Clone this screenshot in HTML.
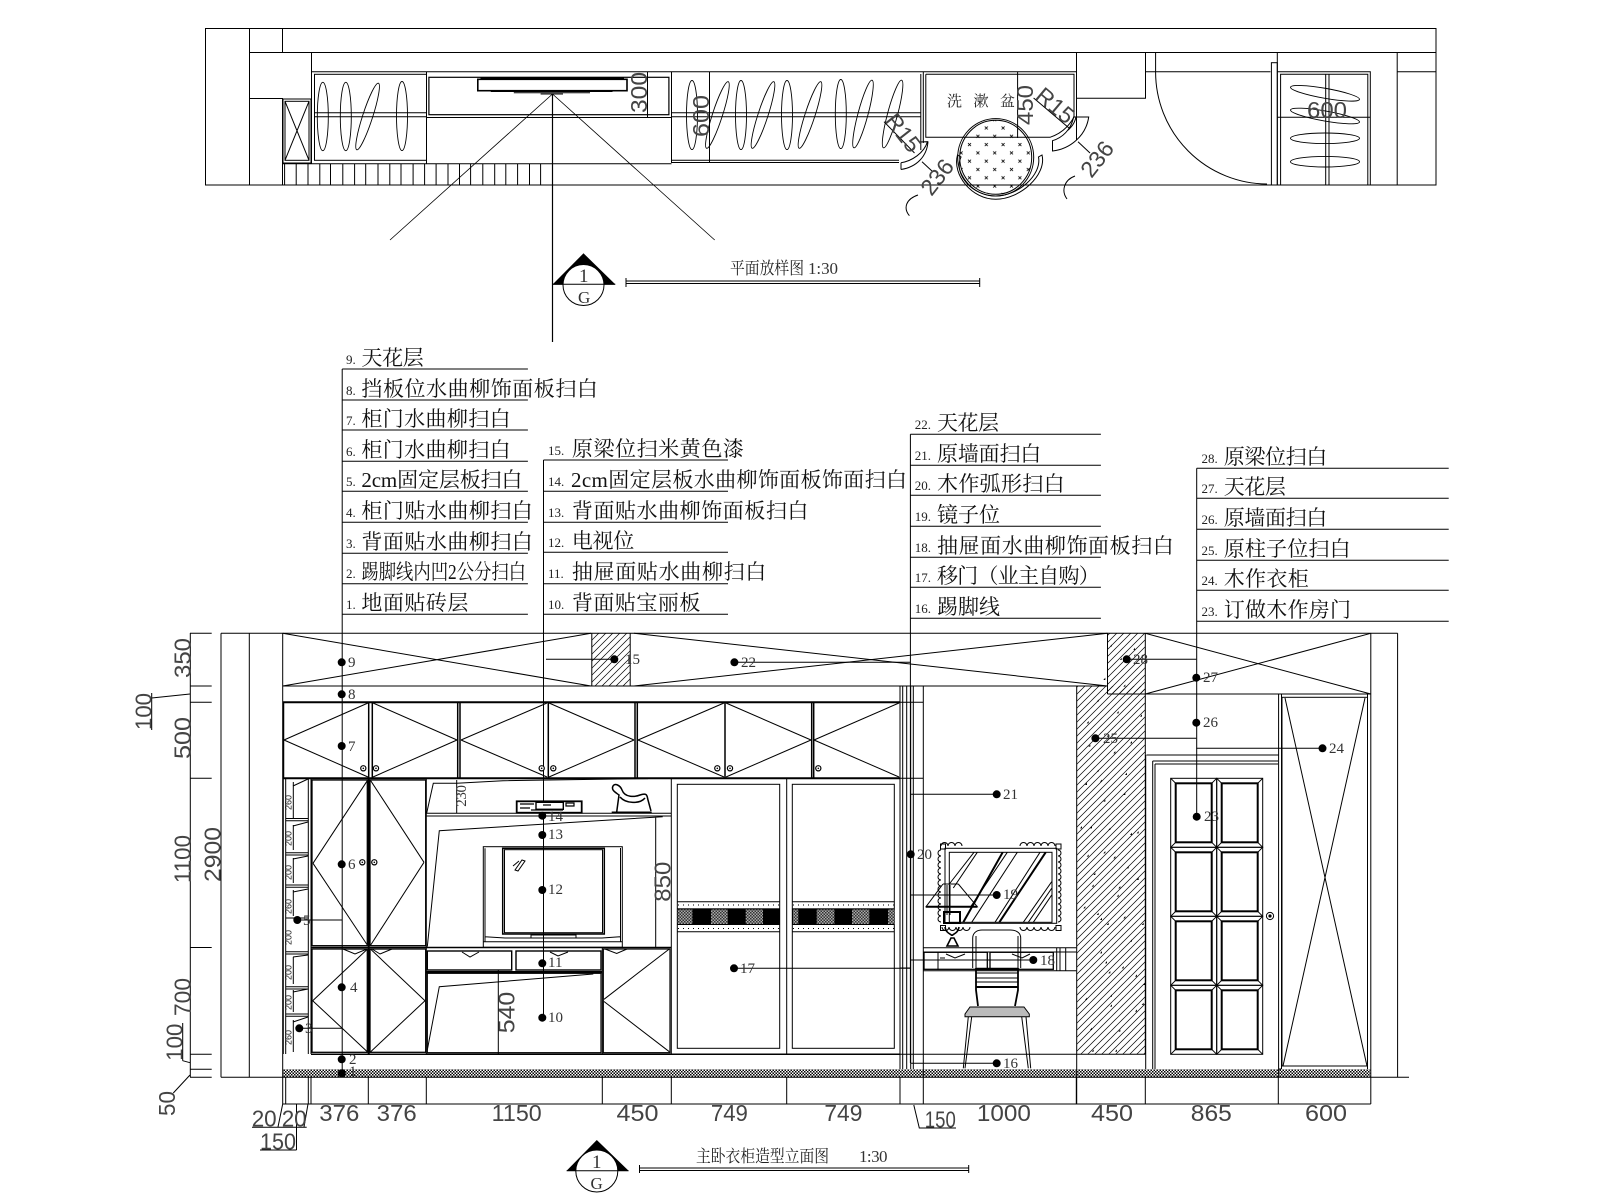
<!DOCTYPE html>
<html><head><meta charset="utf-8"><style>
html,body{margin:0;padding:0;background:#fff}
svg{display:block}
.c{font-family:"Liberation Serif","Noto Serif CJK SC",serif;font-size:21px;fill:#111}
.n{font-family:"Liberation Serif",serif;font-size:13px;fill:#222}
.d{font-family:"Liberation Sans",sans-serif;font-size:23px;fill:#444}
.s{font-family:"Liberation Serif",serif;font-size:15px;fill:#333}
.t{font-family:"Liberation Sans",sans-serif;font-size:9px;fill:#222}
.x{font-family:"Noto Serif CJK SC",serif;font-size:17px;fill:#222}
</style></head><body>
<svg xmlns="http://www.w3.org/2000/svg" width="1600" height="1200" viewBox="0 0 1600 1200">
<defs>
<pattern id="h" width="7" height="7" patternUnits="userSpaceOnUse"><path d="M-1 8L8-1M-1 1L1-1M6 8L8 6" stroke="#000" stroke-width=".7" fill="none"/></pattern>
<pattern id="f" width="3" height="3" patternUnits="userSpaceOnUse"><rect width="3" height="3" fill="#fff"/><rect width="1.5" height="1.5" fill="#000"/><rect x="1.5" y="1.5" width="1.5" height="1.5" fill="#000"/></pattern>
<pattern id="k" width="3" height="3" patternUnits="userSpaceOnUse"><rect width="3" height="3" fill="#aaa"/><rect width="1.5" height="1.5" fill="#333"/><rect x="1.5" y="1.5" width="1.5" height="1.5" fill="#333"/></pattern>
<pattern id="m" width="16.8" height="16.6" patternUnits="userSpaceOnUse"><path d="M2 2l3 3M5 2l-3 3M10.4 10.3l3 3M13.4 10.3l-3 3" stroke="#000" stroke-width=".8" fill="none"/></pattern>
<clipPath id="ce"><ellipse cx="995.7" cy="157.3" rx="36" ry="37"/></clipPath>
<clipPath id="mc"><rect x="949" y="852" width="103" height="71"/></clipPath>
<g id="p" fill="none" stroke="#000"><rect width="46" height="69"/><rect x="5" y="5" width="36" height="59" stroke-width="2"/><path d="M0 0L5 5M46 0L41 5M0 69L5 64M46 69L41 64"/></g>
<g id="ring"><circle r="2.6" fill="#fff" stroke="#000" stroke-width="1.2"/><circle r=".8" fill="#000"/></g>
</defs>

<!-- PLAN -->
<g fill="none" stroke="#000" stroke-width="1">
<rect x="205.5" y="28.5" width="1230.5" height="156.5"/>
<path d="M249.5 28V185M282.5 28V52.5M249 52.5H1436M249 98.5H282.5V185M311.5 52V163.7M311 71.7H1076.5V140M282 163.7H671.5M426.5 72V163.7M671.5 72V163M709.5 72V163M647.5 72V117.5M426 117.5H672M314.5 112.7H426M314.5 116.7H426M672 112.7H920.8M672 116.7H920.8M671.5 160.3H899M671.5 162.5H899M920.8 74V150M923.3 72V143"/>
<rect x="314.5" y="74.3" width="112" height="86"/>
<rect x="428.9" y="77.3" width="240" height="37.4" stroke-width="1.2"/>
<rect x="283" y="99" width="28" height="64"/>
<rect x="285" y="101.3" width="24" height="59"/>
<path d="M285 101.3L309 160.3M309 101.3L285 160.3"/>
<path d="M284.6 163.7V185M296.2 163.7V185M308 163.7V185M319.8 163.7V185M330.5 163.7V185M342.8 163.7V185M354.6 163.7V185M365.7 163.7V185M378 163.7V185M389.8 163.7V185M401 163.7V185M413.1 163.7V185M424.6 163.7V185M436.1 163.7V185M448 163.7V185M459.5 163.7V185M470.6 163.7V185M482.8 163.7V185M494.7 163.7V185M505.8 163.7V185M517.6 163.7V185M529.5 163.7V185M540.6 163.7V185"/>
<path d="M552.5 94V342" stroke-width="1.2"/>
<path d="M552.5 94L390 240M552.5 94L714.7 240" stroke-width=".8"/>
<rect x="477.8" y="79.3" width="149.2" height="11.4" stroke-width="1.6"/>
<path d="M480.5 78H624M490.8 91.5H612.5M513.8 92.8H590M540.6 94H563"/>
<g stroke-width=".9">
<ellipse cx="322.8" cy="116.5" rx="5.5" ry="34.2"/><ellipse cx="345.8" cy="116.5" rx="5.5" ry="34.2"/><ellipse cx="367.6" cy="116.5" rx="5" ry="35" transform="rotate(18 367.6 116.5)"/><ellipse cx="402" cy="116" rx="5.5" ry="34.5"/>
<ellipse cx="692" cy="115" rx="5.5" ry="34.5"/><ellipse cx="717.4" cy="115" rx="5" ry="35" transform="rotate(18 717.4 115)"/><ellipse cx="741" cy="115" rx="5.5" ry="34.5"/><ellipse cx="763" cy="115" rx="5" ry="35" transform="rotate(18 763 115)"/><ellipse cx="787" cy="115" rx="5.5" ry="34.5"/><ellipse cx="810" cy="115" rx="5" ry="35" transform="rotate(18 810 115)"/><ellipse cx="840.8" cy="114" rx="5.5" ry="34.5"/><ellipse cx="863" cy="114" rx="5" ry="35" transform="rotate(15 863 114)"/><ellipse cx="892.6" cy="114" rx="5" ry="35" transform="rotate(15 892.6 114)"/>
<ellipse cx="1325" cy="93.3" rx="35" ry="5" transform="rotate(10 1325 93.3)"/><ellipse cx="1325" cy="116" rx="35" ry="5" transform="rotate(10 1325 116)"/><ellipse cx="1325" cy="138.3" rx="34.5" ry="5.3"/><ellipse cx="1325" cy="161.7" rx="34.5" ry="5.3"/>
</g>
<path d="M925.8 74.3H1074V117M925.8 74.3V137.3H1050C1060 134 1068 128 1074 117M1017.6 72V138"/>
<path d="M884 121.7L914.5 153M1033.6 98L1069 128M922 161.7L933 172M1078 141.7L1090 153"/>
<path d="M901 162.7C912 161 924 153 927.5 141.7L920 142M901 169.5C917 167 927 156 928 141.5M901 162.7V169.5M1052.5 140.7C1062 138 1071 130 1073.6 117H1088.7C1086 136 1070 149 1052.5 151ZM1067 131C1072 127 1075 122 1076 117"/>
<path d="M909.4 215.7C903 208 906 199 918 195M1067 199C1061 191 1064 180 1075 176"/>
<ellipse cx="995.7" cy="157.3" rx="38" ry="38.7"/>
<ellipse cx="995.7" cy="157.3" rx="36" ry="37"/>
<rect x="958" y="119" width="76" height="77" fill="url(#m)" stroke="none" clip-path="url(#ce)"/>
<path d="M957.5 155C952 175 972 199.3 995.7 199.3C1020 199.3 1047 175 1042 155L1038.5 157C1042 175 1018 196 995.7 196C973 196 953 175 961 157Z"/>
<path d="M1076.5 52V98.3H1145.5V52M1145.5 71.7H1270.5M1155.6 52V71.7A112 112 0 0 0 1267 184"/>
<rect x="1271.4" y="62.7" width="5.9" height="122.3"/>
<path d="M1277.3 52V185M1277 71.7H1370.3V185M1280.6 185V74.3H1367.8V185M1277 117.3H1370.3M1325.7 74V185M1329 74V185M1397.2 52V185M1397 71.7H1436"/>
<path d="M552.8 284.3H615.2M626 278V287M979.7 278V287"/>
<path d="M626 281H979.7M626 283.5H979.7"/>
</g>
<path d="M583.5 253.3L552.8 284.3H615.2Z" fill="#000"/>
<circle cx="583.5" cy="285" r="20.5" fill="#fff" stroke="#000"/>
<path d="M552.8 284.3H615.2" stroke="#000"/>
<text class="s" x="579" y="282" style="font-size:19px">1</text>
<text class="s" x="578" y="303" style="font-size:17px">G</text>

<text class="d" transform="translate(647 113) rotate(-90)" textLength="41" lengthAdjust="spacingAndGlyphs">300</text>
<text class="d" transform="translate(709 137) rotate(-90)" textLength="42" lengthAdjust="spacingAndGlyphs">600</text>
<text class="d" transform="translate(1033 125) rotate(-90)" textLength="40" lengthAdjust="spacingAndGlyphs">450</text>
<text class="d" x="1307" y="118" textLength="40" lengthAdjust="spacingAndGlyphs">600</text>
<text class="d" transform="translate(884 121) rotate(52)">R15</text>
<text class="d" transform="translate(1034 98) rotate(40)">R15</text>
<text class="d" text-anchor="middle" transform="translate(937 177) rotate(-52) translate(0 8)">236</text>
<text class="d" text-anchor="middle" transform="translate(1097 159) rotate(-52) translate(0 8)">236</text>
<text class="x" x="947" y="106" textLength="68" style="font-size:15px">洗 漱 盆</text>
<text class="x" x="730" y="274" textLength="74" lengthAdjust="spacingAndGlyphs">平面放样图</text>
<text class="s" x="808" y="274" textLength="30" style="font-size:17px">1:30</text>

<!-- LABELS -->
<g stroke="#000" fill="none">
<path d="M342.2 369H527.9M342.2 400H527.9M342.2 430H527.9M342.2 461.3H527.9M342.2 491.3H527.9M342.2 522.3H527.9M342.2 553.3H527.9M342.2 583.7H527.9M342.2 614.3H527.9"/>
<path d="M543.5 460H728M543.5 491.3H728M543.5 522.3H728M543.5 552.3H728M543.5 583.7H728M543.5 614.3H728"/>
<path d="M910.4 434.3H1100.9M910.4 465.3H1100.9M910.4 495.3H1100.9M910.4 526.3H1100.9M910.4 557.3H1100.9M910.4 587.3H1100.9M910.4 618.3H1100.9"/>
<path d="M1196.7 468.3H1448.7M1196.7 498.3H1448.7M1196.7 529.3H1448.7M1196.7 560.3H1448.7M1196.7 590.3H1448.7M1196.7 621.3H1448.7"/>
<path d="M342.2 369V1073M543.5 460V1017.7M910.4 434.3V1063M1196.7 468.3V816.7"/>
</g>
<g>
<text class="n" x="346" y="364">9.</text><text class="c" x="361.4" y="365" textLength="62.4">天花层</text>
<text class="n" x="346" y="395">8.</text><text class="c" x="361.4" y="396" textLength="236.5">挡板位水曲柳饰面板扫白</text>
<text class="n" x="346" y="425">7.</text><text class="c" x="361.4" y="426" textLength="149.2">柜门水曲柳扫白</text>
<text class="n" x="346" y="456">6.</text><text class="c" x="361.4" y="457" textLength="149.2">柜门水曲柳扫白</text>
<text class="n" x="346" y="486">5.</text><text class="c" x="361.4" y="487" textLength="161">2cm固定层板扫白</text>
<text class="n" x="346" y="517">4.</text><text class="c" x="361.4" y="518" textLength="171.4">柜门贴水曲柳扫白</text>
<text class="n" x="346" y="548">3.</text><text class="c" x="361.4" y="549" textLength="171.4">背面贴水曲柳扫白</text>
<text class="n" x="346" y="578">2.</text><text class="c" x="361.4" y="579" textLength="164.6" lengthAdjust="spacingAndGlyphs">踢脚线内凹2公分扫白</text>
<text class="n" x="346" y="609">1.</text><text class="c" x="361.4" y="610" textLength="107">地面贴砖层</text>

<text class="n" x="548" y="455">15.</text><text class="c" x="571.9" y="456" textLength="172">原梁位扫米黄色漆</text>
<text class="n" x="548" y="486">14.</text><text class="c" x="571" y="487" textLength="336">2cm固定层板水曲柳饰面板饰面扫白</text>
<text class="n" x="548" y="517">13.</text><text class="c" x="571.9" y="518" textLength="236.5">背面贴水曲柳饰面板扫白</text>
<text class="n" x="548" y="547">12.</text><text class="c" x="571.9" y="548" textLength="62.3">电视位</text>
<text class="n" x="548" y="578">11.</text><text class="c" x="571.9" y="579" textLength="194.4">抽屉面贴水曲柳扫白</text>
<text class="n" x="548" y="609">10.</text><text class="c" x="571.9" y="610" textLength="128.5">背面贴宝丽板</text>

<text class="n" x="914.8" y="429">22.</text><text class="c" x="937" y="430" textLength="62">天花层</text>
<text class="n" x="914.8" y="460">21.</text><text class="c" x="937" y="461" textLength="104.3">原墙面扫白</text>
<text class="n" x="914.8" y="490">20.</text><text class="c" x="937" y="491" textLength="127.6">木作弧形扫白</text>
<text class="n" x="914.8" y="521">19.</text><text class="c" x="937" y="522" textLength="63">镜子位</text>
<text class="n" x="914.8" y="552">18.</text><text class="c" x="937" y="553" textLength="236.8">抽屉面水曲柳饰面板扫白</text>
<text class="n" x="914.8" y="582">17.</text><text class="c" x="937" y="583" textLength="162.8">移门（业主自购）</text>
<text class="n" x="914.8" y="613">16.</text><text class="c" x="937" y="614" textLength="63">踢脚线</text>

<text class="n" x="1201.5" y="463">28.</text><text class="c" x="1223.7" y="464" textLength="103.6">原梁位扫白</text>
<text class="n" x="1201.5" y="493">27.</text><text class="c" x="1223.7" y="494" textLength="62.2">天花层</text>
<text class="n" x="1201.5" y="524">26.</text><text class="c" x="1223.7" y="525" textLength="103.6">原墙面扫白</text>
<text class="n" x="1201.5" y="555">25.</text><text class="c" x="1223.7" y="556" textLength="126.9">原柱子位扫白</text>
<text class="n" x="1201.5" y="585">24.</text><text class="c" x="1223.7" y="586" textLength="85">木作衣柜</text>
<text class="n" x="1201.5" y="616">23.</text><text class="c" x="1223.7" y="617" textLength="127.3">订做木作房门</text>
</g>

<!-- ELEVATION fills -->
<rect x="591.8" y="633.3" width="38.4" height="52.7" fill="url(#h)"/>
<rect x="1107.5" y="633.3" width="37.8" height="60.7" fill="url(#h)"/>
<rect x="1076.7" y="686" width="68.6" height="368.3" fill="url(#h)"/>
<rect x="282.7" y="1069.3" width="1087.6" height="8" fill="url(#f)"/>

<g fill="none" stroke="#000" stroke-width="1">
<path d="M221 633.3H1397.6M221 633.3V1077.3M249.3 633.3V1077.3M282.7 633.3V1104M1370.8 633.3V1104M1397.6 633.3V1077.3M221 1077.3H1409M282.7 1104H1370.8"/>
<path d="M190.3 633V1077M190 633.3H211.7M190 686H211.7M190 702.3H211.7M190 778.3H211.7M190 947.5H211.7M190 1054.3H211.7M190 1069.3H211.7M190 1077.3H211.7"/>
<path d="M151.7 698L190 694M182.7 1060.7L190 1062.7M173.3 1093L190 1075M151.7 693V730M182.7 1023V1060.7"/>
<path d="M285.7 1077V1104M308.3 1077V1104M311 1077V1104M368.3 1077V1104M426.3 1077V1104M602.3 1077V1104M671.3 1077V1104M786.7 1077V1104M900 1077V1104M923.3 1077V1104M1076.3 1077V1104M1145.3 1077V1104M1278.3 1077V1104"/>
<path d="M252 1127.3H306.7M282.7 1104L278 1127M308 1104L304 1127M260 1150H296.5M296.5 1104V1150M913.8 1105L919.3 1128H956"/>
<path d="M282.7 686H1107.5M1107.5 694H1370.8M1107.5 633.3V694M1145.3 633.3V1054.3M1076.7 686V1104M591.8 633.3V686M630.2 633.3V686M900 1054.3H1145.3"/>
<path d="M282.7 686L591 633.3M282.7 633.3L591 686M634 633.3L1107.5 686M634 686L1107.5 633.3M1145.3 633.3L1370.8 694M1145.3 694L1370.8 633.3"/>

<path d="M282.7 702.3H900" stroke-width="2"/>
<path d="M282.7 778.3H900" stroke-width="2"/>
<path d="M283.5 702V778M368.7 702V778M372.3 702V778M457.7 702V778M460 702V778M548.3 702V778M635 702V778M637.3 702V778M725 702V778M811.7 702V778M813.7 702V778" stroke-width="1.5"/>
<path d="M284 740L368 703M284 740L368 777M373 703L457 740M373 777L457 740M461 740L547 703M461 740L547 777M549 703L634 740M549 777L634 740M638 740L724 703M638 740L724 777M726 703L811 740M726 777L811 740M814 740L899 703M814 740L899 777"/>

<path d="M900 686V1069M902.7 686V1069M906.7 686V1069M910.7 686V1069M913.3 686V1069M923.3 686V1077M900 702.3H923.3M900 778.3H923.3M900 968H910.7"/>
<path d="M910.7 794.3H996.7M910.7 895H996.7M910.7 960H1033.3M910.7 1063.3H996.7M734 968.3H910.7M546 659.3H614.3M734.4 662.3H910.5M1126.7 659.3H1196.3M1095.4 738.3H1196.3M1196.3 748.3H1322.5M297.3 920H342.3M299.3 1028.3H342.3"/>

<path d="M283.3 778V1054M285.7 778V1054M308.3 778V1054M311 778V1054"/>
<path d="M293.3 782V818M293.3 825V850M293.3 858V883M293.3 890V916M293.3 957V984M293.3 990V1012M293.3 1020V1052"/>
<path d="M286 818.5H308M286 820.8H308M286 852.7H308M286 855H308M286 885H308M286 887.3H308M286 918H308M286 951.7H308M286 954H308M286 986.7H308M286 989H308M286 1014H308M286 1016.3H308"/>
<path d="M293 786L308 779M293 826L308 822M293 859L308 856M293 892L308 889M293 957L308 955M293 992L308 989M293 1022L308 1017"/>

<rect x="312" y="780" width="55.3" height="165.7" stroke-width="1.3"/>
<rect x="370" y="780" width="55.7" height="165.7" stroke-width="1.3"/>
<rect x="312" y="949" width="55.3" height="103.3" stroke-width="1.3"/>
<rect x="370" y="949" width="55.7" height="103.3" stroke-width="1.3"/>
<path d="M368.7 778V1054" stroke-width="2"/>
<path d="M311 947.5H671.3" stroke-width="1.6"/>
<path d="M311 1054.3H900" stroke-width="1.5"/>
<path d="M313 863.3L367.3 780.7M313 863.3L367.3 945M370.7 780.7L424 862.3M370.7 945L424 862.3M312.7 1000.7L367.3 949.3M312.7 1000.7L367.3 1051.7M370.7 949.3L425 1000.7M370.7 1051.7L425 1000.7M343 949L355 954L367 949M372 949L380 954L392 949"/>
<path d="M426.3 778V1054M671.3 778V1054M426.3 813.3H671.3M426.3 816H671.3M602.3 947V1054"/>
<path d="M426.7 813L433.3 783.3H456.7L503 780.7L600 779.3L648 778.6M456.7 780V813M427.3 946.7L439.3 830.7L662.7 816.7M655.7 817V947"/>
<rect x="483.3" y="846.7" width="139" height="100.6"/>
<path d="M485 848.3V942M620.5 848V942M483 941.7H622.3M485 936.7L505 938H602L620 936.7M531 935H576V938H531Z"/>
<rect x="502.7" y="848.3" width="101.6" height="85.7" stroke-width="1.5"/>
<rect x="504.5" y="849.7" width="98" height="83"/>
<path d="M513 866L519 861M515 870L522 860L525 861L518 871Z"/>
<rect x="516.7" y="801.3" width="65" height="11.4" fill="#fff" stroke-width="1.8"/>
<rect x="536" y="802.3" width="27.3" height="7" stroke-width="1.4"/>
<path d="M520 804h14M520 808h10M543 805h8M566 803h8v3h-8zM531 810H563" stroke-width="1.2"/>
<path d="M616.7 812L619 795C615 792 611 790 613 786C615 783 620 785 622 790C625 798 635 797 640 795C648 792 647 797 648 800L651 811M620 797C626 804 640 804 645 798M611.7 812.3H651.7" stroke-width="1.5"/>
<rect x="427.3" y="951" width="84.4" height="19" stroke-width="1.4"/>
<rect x="516" y="951" width="85" height="19" stroke-width="1.4"/>
<path d="M462 952L470 957L479 952M550 952L558 956L568 952M426 971.5H602" />
<path d="M426 972.7H602" stroke-width="1.6"/>
<rect x="427.3" y="973.3" width="173.7" height="79.4" stroke-width="1.2"/>
<path d="M427.3 1050L439.3 986.7L593.3 974M498.3 970V1054"/>
<rect x="603.3" y="949" width="66.7" height="103.7" stroke-width="1.2"/>
<path d="M604 999.3L669.3 949M604 1001.5L669.3 1051.7M605 949L616.7 953.5L627 949"/>

<path d="M671.3 778.5H899M786.7 778V1054"/>
<rect x="677.3" y="784.3" width="102.4" height="264"/>
<rect x="792.3" y="784.3" width="102" height="264"/>
<path d="M677.3 901.7H779.7M792.3 901.7H894.3M677.3 931.7H779.7M792.3 931.7H894.3"/>
<path d="M678 905H779M793 905H894M678 928.5H779M793 928.5H894" stroke-dasharray="1 4"/>
</g>
<rect x="677.3" y="908.3" width="102.4" height="16.7" fill="#000"/>
<rect x="792.3" y="908.3" width="102" height="16.7" fill="#000"/>
<g fill="url(#k)">
<rect x="677.7" y="909.5" width="14.7" height="14.5"/><rect x="711" y="909.5" width="16.7" height="14.5"/><rect x="745.7" y="909.5" width="17.3" height="14.5"/>
<rect x="793" y="909.5" width="5.3" height="14.5"/><rect x="816.7" y="909.5" width="17.7" height="14.5"/><rect x="852" y="909.5" width="17.3" height="14.5"/><rect x="888" y="909.5" width="6.3" height="14.5"/>
</g>

<!-- knobs -->
<use href="#ring" x="363.3" y="768.3"/><use href="#ring" x="376" y="768.3"/><use href="#ring" x="541.7" y="768.3"/><use href="#ring" x="553.3" y="768.3"/><use href="#ring" x="717.3" y="768.3"/><use href="#ring" x="730" y="768.3"/><use href="#ring" x="818.3" y="768.3"/><use href="#ring" x="362.3" y="862.3"/><use href="#ring" x="374.3" y="862.3"/>

<!-- right: door + wardrobe -->
<g fill="none" stroke="#000">
<path d="M1146.4 755H1278.6M1145.7 755V1069M1152.7 761V1069M1155 764V1069M1152.7 761H1278M1155 764H1278M1278.6 694V1077M1281.5 694V1069M1278.3 1069H1281"/>
<rect x="1282" y="697.3" width="85.5" height="368.7"/>
<path d="M1285 698L1367 1066M1365 698L1283 1066M1367.5 694V1069"/>
</g>
<use href="#p" x="1170.7" y="778.3"/><use href="#p" x="1216.7" y="778.3"/>
<use href="#p" x="1170.7" y="847.3"/><use href="#p" x="1216.7" y="847.3"/>
<use href="#p" x="1170.7" y="916.3"/><use href="#p" x="1216.7" y="916.3"/>
<use href="#p" x="1170.7" y="985.3"/><use href="#p" x="1216.7" y="985.3"/>
<circle cx="1270" cy="916" r="3.6" fill="#fff" stroke="#000"/><circle cx="1270" cy="916" r="1.6" fill="#000"/>

<!-- mirror, lamp, desk, chair -->
<g fill="none" stroke="#000" stroke-width="1">
<rect x="945" y="848.3" width="111.7" height="75"/>
<rect x="949.3" y="852.3" width="102.7" height="70"/>
<g clip-path="url(#mc)">
<path d="M949.3 884L974 852.3M953.3 888L977.3 852.3M971.7 922.3L1017.3 852.3M970.7 906.7L1007.3 852.3M995 922.3L1040 852.3M1023.3 922.3L1051.7 881.7M1028.3 922.3L1051.7 888.3M1033.3 922.3L1051.7 895"/>
<path d="M963.3 922.3L1002.7 852.3M999.3 922.3L1045.7 852.3" stroke-width="2"/>
</g>
<path d="M941 846a3.5 3.5 0 0 1 7 0 3.5 3.5 0 0 1 7 0 3.5 3.5 0 0 1 7 0M1020 846a3.5 3.5 0 0 1 7 0 3.5 3.5 0 0 1 7 0 3.5 3.5 0 0 1 7 0 3.5 3.5 0 0 1 7 0 3.5 3.5 0 0 1 7 0M942 927a3.5 3.5 0 0 0 7 0 3.5 3.5 0 0 0 7 0 3.5 3.5 0 0 0 7 0 3.5 3.5 0 0 0 7 0M1020 927a3.5 3.5 0 0 0 7 0 3.5 3.5 0 0 0 7 0 3.5 3.5 0 0 0 7 0 3.5 3.5 0 0 0 7 0 3.5 3.5 0 0 0 7 0M941 850a3 3 0 0 0 0 6 3 3 0 0 0 0 6 3 3 0 0 0 0 6 3 3 0 0 0 0 6 3 3 0 0 0 0 6 3 3 0 0 0 0 6 3 3 0 0 0 0 6 3 3 0 0 0 0 6 3 3 0 0 0 0 6 3 3 0 0 0 0 6 3 3 0 0 0 0 6 3 3 0 0 0 0 6M1058 850a3 3 0 0 1 0 6 3 3 0 0 1 0 6 3 3 0 0 1 0 6 3 3 0 0 1 0 6 3 3 0 0 1 0 6 3 3 0 0 1 0 6 3 3 0 0 1 0 6 3 3 0 0 1 0 6 3 3 0 0 1 0 6 3 3 0 0 1 0 6 3 3 0 0 1 0 6 3 3 0 0 1 0 6"/>
<rect x="940.5" y="844" width="5" height="5"/><rect x="1056" y="844" width="5" height="5"/><rect x="940.5" y="925.5" width="5" height="5"/><rect x="1056" y="925.5" width="5" height="5"/>
<path d="M923.3 947.7H1076.3M923.3 952H1076.3M923.3 970.7H1076.3M1056.7 947.7V970.7M1060 947.7V970.7M1065.7 947.7V970.7"/>
<rect x="924" y="952.3" width="63.3" height="17" stroke-width="1.3"/>
<rect x="990" y="952.3" width="63.3" height="17" stroke-width="1.3"/>
<path d="M946 954L955 958L965 954M1012 954L1022 958L1030 954M938 952V970M940 958H945"/>
<path d="M943 884H958.3M943 884L926 906.7H977.3L958.3 884M947 885V915M950 885V915" stroke-width="1"/>
<path d="M926 906.7H977.3" stroke-width="2"/>
<path d="M944 912H960V923H944Z" stroke-width="2"/>
<path d="M945 927C946 934 952 934 952 936M959 927C958 934 952 934 952 936M947 946H958L954 938H951Z" stroke-width="1.6"/>
<path d="M972.7 968V938C972.7 932 978 930 982 930H1010C1018 930 1020.7 934 1020.7 938V968M976 936V968M1018 936V968"/>
<path d="M976 969H1018" stroke-width="2.4"/><path d="M976 973H1018M976 978H1018M976 982H1018"/>
<path d="M976 987H1018" stroke-width="2"/>
<path d="M976 968V990L978 1006M1018 968V990L1015 1006" stroke-width="1.8"/>
<path d="M970 1007H1024L1029.3 1014V1016.7H965V1014Z" fill="#bbb"/>
<path d="M968.3 1016.7L963.3 1068.3M971.7 1016.7L965 1068.3M1021.7 1016.7L1028.3 1068.3M1026 1016.7L1030.7 1068.3"/>
</g>
<g transform="translate(900 760) scale(.33333)" fill="#000">
<path d="M590 35h6v-6zM675 45h6v-7zM555 75h6v-7zM600 65h6v-6zM610 125h6v-7zM670 105h6v-7zM540 205h6v-7zM570 205h6v-7zM625 210h6v-7zM690 225h6v-7zM710 220h6v-7zM560 290h6v-7zM610 280h6v-7zM640 295h6v-7zM680 325h6v-7zM580 345h6v-7zM575 380h6v-7zM655 385h6v-7zM650 410h6v-7zM710 360h6v-7zM550 445h6v-7zM590 465h6v-7zM600 480h6v-7zM620 495h6v-7zM670 475h6v-7zM725 495h6v-7zM690 545h6v-7zM600 580h6v-7zM615 610h6v-7zM625 640h6v-7zM665 625h6v-7zM705 650h6v-7zM730 675h6v-7zM630 710h6v-7zM555 720h6v-7zM630 740h6v-7zM705 755h6v-7zM725 735h6v-7zM570 810h6v-7zM655 815h6v-7zM575 875h6v-7zM645 875h6v-7z"/>
<path d="M590 -175h6v-7zM650 -140h6v-7zM560 -110h6v-7zM620 -70h6v-7zM690 -50h6v-7zM720 -130h6v-7zM610 -240h6v-7zM670 -220h6v-7zM565 -40h6v-7zM640 -20h6v-7z"/>
<path d="M630 -340h5v-7zM700 -330h5v-7zM660 -300h5v-7z"/>
</g>

<!-- dots -->
<g fill="#000">
<circle cx="341.7" cy="662.3" r="4"/><circle cx="341.7" cy="694.3" r="4"/><circle cx="341.7" cy="746" r="4"/><circle cx="341.7" cy="864.3" r="4"/><circle cx="341.7" cy="987.3" r="4"/><circle cx="341.7" cy="1059.3" r="4"/><circle cx="341.7" cy="1073.3" r="4"/>
<circle cx="297.3" cy="920" r="4"/><circle cx="299.3" cy="1028.3" r="4"/>
<circle cx="542.3" cy="815.7" r="4"/><circle cx="542.3" cy="835" r="4"/><circle cx="542.3" cy="890" r="4"/><circle cx="542.3" cy="963.3" r="4"/><circle cx="542.3" cy="1017.7" r="4"/>
<circle cx="734" cy="968.3" r="4"/><circle cx="614.3" cy="659.3" r="4"/><circle cx="734.4" cy="662.3" r="4"/>
<circle cx="996.7" cy="794.3" r="4"/><circle cx="910.7" cy="854.3" r="4"/><circle cx="996.7" cy="895" r="4"/><circle cx="1033.3" cy="960" r="4"/><circle cx="996.7" cy="1063.3" r="4"/>
<circle cx="1196.7" cy="816.7" r="4"/><circle cx="1126.7" cy="659.3" r="4"/><circle cx="1196.3" cy="677.7" r="4"/><circle cx="1196.3" cy="722.7" r="4"/><circle cx="1095.4" cy="738.3" r="4"/><circle cx="1322.5" cy="748.3" r="4"/>
</g>
<g>
<text class="s" x="348" y="667">9</text><text class="s" x="348" y="699">8</text><text class="s" x="348" y="751">7</text><text class="s" x="348" y="869">6</text><text class="s" x="350" y="992">4</text><text class="s" x="349" y="1064">2</text><text class="s" x="349" y="1076">1</text><text class="s" x="303" y="925">5</text><text class="s" x="305" y="1033">3</text>
<text class="s" x="548" y="821">14</text><text class="s" x="548" y="839">13</text><text class="s" x="548" y="894">12</text><text class="s" x="548" y="967">11</text><text class="s" x="548" y="1022">10</text>
<text class="s" x="740" y="973">17</text><text class="s" x="625" y="664">15</text><text class="s" x="741" y="667">22</text>
<text class="s" x="1003" y="799">21</text><text class="s" x="917" y="859">20</text><text class="s" x="1003" y="899">19</text><text class="s" x="1040" y="965">18</text><text class="s" x="1003" y="1068">16</text>
<text class="s" x="1204" y="821">23</text><text class="s" x="1133" y="664">28</text><text class="s" x="1203" y="682">27</text><text class="s" x="1203" y="727">26</text><text class="s" x="1103" y="743">25</text><text class="s" x="1329" y="753">24</text>
</g>

<!-- dimension text -->
<g>
<text class="d" transform="translate(190.5 678) rotate(-90)" textLength="40" lengthAdjust="spacingAndGlyphs">350</text>
<text class="d" transform="translate(151.5 730) rotate(-90)" textLength="37" lengthAdjust="spacingAndGlyphs">100</text>
<text class="d" transform="translate(190.5 759) rotate(-90)" textLength="42" lengthAdjust="spacingAndGlyphs">500</text>
<text class="d" transform="translate(220.5 882) rotate(-90)" textLength="55" lengthAdjust="spacingAndGlyphs">2900</text>
<text class="d" transform="translate(190.5 883) rotate(-90)" textLength="48" lengthAdjust="spacingAndGlyphs">1100</text>
<text class="d" transform="translate(190.5 1016) rotate(-90)" textLength="38" lengthAdjust="spacingAndGlyphs">700</text>
<text class="d" transform="translate(182.5 1060.7) rotate(-90)" textLength="37" lengthAdjust="spacingAndGlyphs">100</text>
<text class="d" transform="translate(175 1116) rotate(-90)" textLength="25" lengthAdjust="spacingAndGlyphs">50</text>
<text class="d" x="251.7" y="1126.5" textLength="25" lengthAdjust="spacingAndGlyphs">20</text>
<text class="d" x="281.7" y="1126.5" textLength="25" lengthAdjust="spacingAndGlyphs">20</text>
<text class="d" x="260" y="1149.5" textLength="36" lengthAdjust="spacingAndGlyphs">150</text>
<text class="d" x="319.3" y="1121" textLength="40" lengthAdjust="spacingAndGlyphs">376</text>
<text class="d" x="376.7" y="1121" textLength="40" lengthAdjust="spacingAndGlyphs">376</text>
<text class="d" x="491.7" y="1121" textLength="50" lengthAdjust="spacingAndGlyphs">1150</text>
<text class="d" x="616.5" y="1121" textLength="42" lengthAdjust="spacingAndGlyphs">450</text>
<text class="d" x="710.9" y="1121" textLength="37" lengthAdjust="spacingAndGlyphs">749</text>
<text class="d" x="824.4" y="1121" textLength="38" lengthAdjust="spacingAndGlyphs">749</text>
<text class="d" x="924.8" y="1127.5" textLength="31" lengthAdjust="spacingAndGlyphs">150</text>
<text class="d" x="976.9" y="1121" textLength="54" lengthAdjust="spacingAndGlyphs">1000</text>
<text class="d" x="1091" y="1121" textLength="42" lengthAdjust="spacingAndGlyphs">450</text>
<text class="d" x="1190.8" y="1121" textLength="41" lengthAdjust="spacingAndGlyphs">865</text>
<text class="d" x="1305" y="1121" textLength="42" lengthAdjust="spacingAndGlyphs">600</text>
<text class="d" transform="translate(670.5 901.7) rotate(-90)" textLength="40" lengthAdjust="spacingAndGlyphs">850</text>
<text class="d" transform="translate(514.5 1033.3) rotate(-90)" textLength="41.6" lengthAdjust="spacingAndGlyphs">540</text>
<text class="s" transform="translate(466 806.7) rotate(-90)" textLength="21.7">230</text>
<text class="t" transform="translate(291.5 810) rotate(-90)">260</text>
<text class="t" transform="translate(291.5 846) rotate(-90)">200</text>
<text class="t" transform="translate(291.5 880) rotate(-90)">200</text>
<text class="t" transform="translate(291.5 914) rotate(-90)">260</text>
<text class="t" transform="translate(291.5 945) rotate(-90)">200</text>
<text class="t" transform="translate(291.5 980) rotate(-90)">200</text>
<text class="t" transform="translate(291.5 1010) rotate(-90)">200</text>
<text class="t" transform="translate(291.5 1045) rotate(-90)">260</text>
</g>

<!-- section marker 2 -->
<path d="M596.8 1140L566.6 1170.7H628.6Z" fill="#000"/>
<circle cx="596.8" cy="1171" r="21" fill="#fff" stroke="#000"/>
<path d="M566.6 1170.7H628.6" stroke="#000"/>
<text class="s" x="592" y="1168" style="font-size:19px">1</text>
<text class="s" x="590.5" y="1189" style="font-size:17px">G</text>
<path d="M639.5 1168H968.7M639.5 1170.5H968.7M639.5 1165V1173M968.7 1165V1173" stroke="#000" fill="none"/>
<text class="x" x="696" y="1162" textLength="133" lengthAdjust="spacingAndGlyphs">主卧衣柜造型立面图</text>
<text class="s" x="859" y="1162" textLength="28.5" style="font-size:17px">1:30</text>
</svg>
</body></html>
